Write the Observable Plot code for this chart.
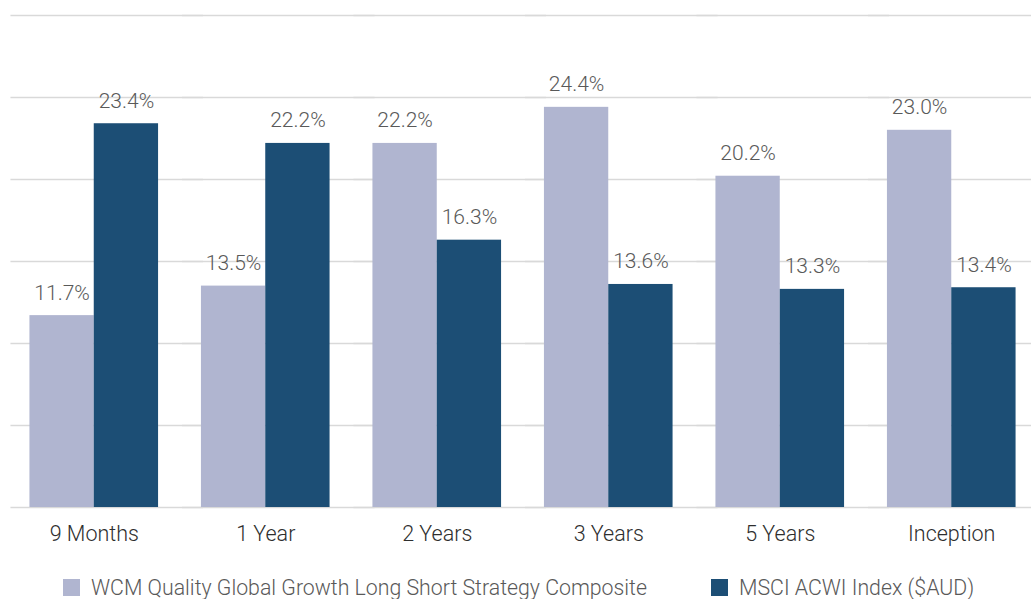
<!DOCTYPE html>
<html>
<head>
<meta charset="utf-8">
<script src="https://cdn.jsdelivr.net/npm/d3@7"></script>
<script src="https://cdn.jsdelivr.net/npm/@observablehq/plot@0.6"></script>
<style>
  html, body { margin: 0; padding: 0; background: #fff; overflow: hidden; }
  body { font-family: Roboto, "Open Sans", sans-serif; position: relative; width: 1031px; height: 599px; }
  #chart { position: absolute; left: 0; top: 0; width: 1031px; height: 570px; overflow: hidden; }
  #legend { position: absolute; left: 63px; top: 576px; display: flex; align-items: center; gap: 64px; height: 22px; font-size: 21.3px; font-weight: 300; color: #595959; }
  .item { display: flex; align-items: center; gap: 11px; white-space: nowrap; }
  .sw { width: 17px; height: 17px; display: inline-block; }
</style>
</head>
<body>
<div id="chart"></div>
<div id="legend"></div>
<script>
const categories = ["9 Months", "1 Year", "2 Years", "3 Years", "5 Years", "Inception"];
const seriesNames = ["WCM Quality Global Growth Long Short Strategy Composite", "MSCI ACWI Index ($AUD)"];
const compositeValues = [11.7, 13.5, 22.2, 24.4, 20.2, 23.0];
const msciValues = [23.4, 22.2, 16.3, 13.6, 13.3, 13.4];
const gridTicks = [0, 5, 10, 15, 20, 25, 30];
const colors = ["#B0B5D0", "#1C4E75"];

const data = [];
categories.forEach((c, i) => {
  data.push({category: c, series: seriesNames[0], value: compositeValues[i]});
  data.push({category: c, series: seriesNames[1], value: msciValues[i]});
});

const plot = Plot.plot({
  width: 1037,
  height: 560,
  marginTop: 15,
  marginBottom: 53,
  marginLeft: 8,
  marginRight: 0,
  facet: {marginTop: 0, marginBottom: 0, marginLeft: 0, marginRight: 0},
  style: {fontFamily: "Roboto, sans-serif", fontSize: "20px", background: "#fff", overflow: "visible", maxWidth: "none"},
  fx: {domain: categories, paddingInner: 0.25, paddingOuter: 0.125, round: false, label: null, axis: null},
  x: {domain: seriesNames, padding: 0, round: false, axis: null},
  y: {domain: [0, 30], axis: null},
  color: {domain: seriesNames, range: colors},
  marks: [
    Plot.ruleY(gridTicks, {stroke: "#D9D9D9", strokeWidth: 1.5, insetLeft: -19, insetRight: -45}),
    Plot.barY(data, {fx: "category", x: "series", y: "value", fill: "series"}),
    Plot.text(data, {fx: "category", x: "series", y: "value", text: d => d.value.toFixed(1) + "%", lineAnchor: "bottom", dy: -16, fill: "#595959", fontWeight: 300, fontSize: 21}),
    Plot.axisFx({anchor: "bottom", tickSize: 0, tickPadding: 18, label: null, fontSize: 21.5, fontWeight: 300, fill: "#2e2e2e"})
  ]
});
document.getElementById("chart").appendChild(plot);

const legend = document.getElementById("legend");
seriesNames.forEach((s, i) => {
  const item = document.createElement("div");
  item.className = "item";
  const sw = document.createElement("span");
  sw.className = "sw";
  sw.style.background = colors[i];
  const label = document.createElement("span");
  label.textContent = s;
  item.appendChild(sw);
  item.appendChild(label);
  legend.appendChild(item);
});
</script>
</body>
</html>
